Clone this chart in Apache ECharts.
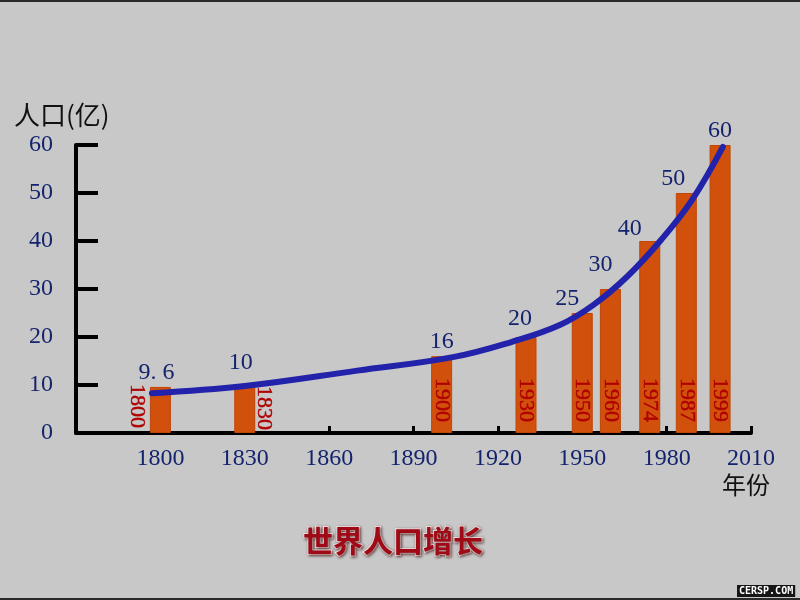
<!DOCTYPE html>
<html>
<head>
<meta charset="utf-8">
<script src="https://cdn.jsdelivr.net/npm/echarts@6/dist/echarts.min.js"></script>
<style>
  html, body { margin: 0; padding: 0; background: #c8c8c8; }
  #chart { width: 800px; height: 600px; }
</style>
</head>
<body>
<div id="chart"></div>
<script>
// ---- Data ----
const years = [1800, 1830, 1900, 1930, 1950, 1960, 1974, 1987, 1999];
const population = [9.6, 10, 16, 20, 25, 30, 40, 50, 60];
const valueLabels = ['9. 6', '10', '16', '20', '25', '30', '40', '50', '60'];
const curveYears = [1797, 1830, 1870, 1904, 1925, 1942, 1954, 1966, 1978, 1989, 2000];
const curveValues = [8.3, 9.8, 13.0, 15.8, 19.0, 22.5, 26.7, 32.6, 40.2, 48.5, 59.6];
const xTickLabels = [1800, 1830, 1860, 1890, 1920, 1950, 1980, 2010];
const yTickLabels = [0, 10, 20, 30, 40, 50, 60];
const yAxisTitle = '人口(亿)';
const xAxisTitle = '年份';
const chartTitle = '世界人口增长';
const watermark = 'CERSP.COM';

// ---- Styling helpers (positions/offsets, not data) ----
const valueLabelNudge = { 1800: [-4, 0], 1830: [-4, -8], 1900: [0, 0], 1930: [-6, -4], 1950: [-15, 0], 1960: [-10, -10], 1974: [-20, 2], 1987: [-13, 0], 1999: [0, 0] };
const yearLabelShift = { 1800: [-24, 5], 1830: [19, 3] };

const serif = '"Liberation Serif", "Times New Roman", serif';
const navy = '#14236e';

const chart = echarts.init(document.getElementById('chart'), null, { renderer: 'canvas' });

const barData = years.map((y, i) => ({
  value: [y, population[i]],
  label: { offset: valueLabelNudge[y] || [0, 0], formatter: valueLabels[i] }
}));

const option = {
  backgroundColor: '#c8c8c8',
  animation: false,
  title: {
    text: chartTitle,
    left: 298,
    top: 521,
    textStyle: {
      fontFamily: '"Noto Sans CJK SC", sans-serif',
      fontSize: 30,
      fontWeight: 'bold',
      color: '#a00a16',
      textBorderColor: '#f2e6e6',
      textBorderWidth: 2,
      textShadowColor: 'rgba(60,0,0,0.6)',
      textShadowBlur: 3,
      textShadowOffsetX: 1,
      textShadowOffsetY: 1
    }
  },
  grid: { left: 76, right: 49, top: 145, bottom: 167, containLabel: false },
  xAxis: {
    type: 'value',
    min: 1770,
    max: 2010,
    interval: 30,
    splitLine: { show: false },
    axisLine: { show: true, onZero: false, lineStyle: { color: '#000', width: 4 } },
    axisTick: { show: true, inside: true, length: 7, lineStyle: { color: '#000', width: 3 } },
    axisLabel: {
      margin: 14,
      color: navy,
      fontFamily: serif,
      fontSize: 24,
      formatter: v => (xTickLabels.indexOf(v) >= 0 ? String(v) : '')
    }
  },
  yAxis: {
    type: 'value',
    min: 0,
    max: 60,
    interval: 10,
    splitLine: { show: false },
    axisLine: { show: true, lineStyle: { color: '#000', width: 4 } },
    axisTick: { show: true, inside: true, length: 22, lineStyle: { color: '#000', width: 4 } },
    axisLabel: {
      margin: 23,
      color: navy,
      fontFamily: serif,
      fontSize: 24,
      formatter: v => (yTickLabels.indexOf(v) >= 0 ? String(v) : '')
    }
  },
  series: [
    {
      type: 'bar',
      barWidth: 21,
      data: barData,
      itemStyle: { color: '#d0500c', borderColor: '#c04608', borderWidth: 1 },
      label: {
        show: true,
        position: 'top',
        distance: 2,
        color: navy,
        fontFamily: serif,
        fontSize: 24
      },
      z: 2
    },
    {
      type: 'line',
      data: curveYears.map((y, i) => [y, curveValues[i]]),
      smooth: 0.4,
      showSymbol: false,
      lineStyle: { color: '#2222aa', width: 6, cap: 'round' },
      z: 3
    },
    {
      type: 'custom',
      data: years.map(y => [y, 0]),
      renderItem: function (params, api) {
        const yr = api.value(0);
        const p = api.coord([yr, 0]);
        const s = yearLabelShift[yr] || [0, 11];
        return {
          type: 'text',
          x: p[0] + s[0],
          y: p[1] - s[1],
          rotation: -Math.PI / 2,
          style: {
            text: String(yr),
            align: 'right',
            verticalAlign: 'middle',
            fill: '#b00000',
            stroke: '#b00000',
            lineWidth: 0.4,
            font: '22px "Liberation Serif", serif'
          },
          z2: 10
        };
      },
      z: 4
    }
  ],
  graphic: [
    { type: 'rect', left: 0, top: 0, shape: { width: 800, height: 2 }, style: { fill: '#2a2a2a' } },
    { type: 'rect', left: 0, top: 598, shape: { width: 800, height: 2 }, style: { fill: '#2a2a2a' } },
    {
      type: 'text', left: 14, top: 102,
      style: { text: yAxisTitle, fill: '#111', font: '26px "Noto Sans CJK SC", sans-serif' }
    },
    {
      type: 'text', left: 722, top: 473,
      style: { text: xAxisTitle, fill: '#111', font: '24px "Noto Sans CJK SC", sans-serif' }
    },
    {
      type: 'text', left: 737, top: 585,
      style: {
        text: watermark, fill: '#ffffff', font: 'bold 10px "DejaVu Sans Mono", monospace',
        backgroundColor: '#151515', padding: [1, 2, 1, 2]
      }
    }
  ]
};

chart.setOption(option);
</script>
</body>
</html>
